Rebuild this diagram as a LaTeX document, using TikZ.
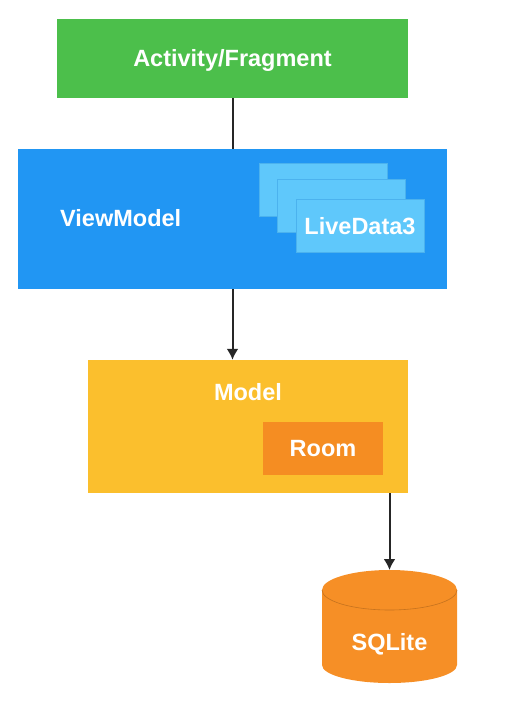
\documentclass[tikz,border=0pt]{standalone}
\usepackage{fontspec}
\setmainfont{Liberation Sans}
\usepackage{tikz}
\usetikzlibrary{positioning,arrows.meta}
\definecolor{actgreen}{HTML}{4CBF4B}
\definecolor{vmblue}{HTML}{2196F3}
\definecolor{ldblue}{HTML}{5FC8FB}
\definecolor{ldedge}{HTML}{4BB2EE}
\definecolor{mdyellow}{HTML}{FBBF2D}
\definecolor{roomorange}{HTML}{F58D22}
\definecolor{dborange}{HTML}{F68F26}
\tikzset{
  box/.style={rectangle,inner sep=0pt,text=white,text height=16.5pt,text depth=0pt,
    font=\bfseries\fontsize{23.5}{27}\selectfont},
  ldbox/.style={box,fill=ldblue,draw=ldedge,line width=0.6pt,minimum width=128pt,minimum height=53pt},
  link/.style={line width=2pt,black!85},
  tip/.style={-{Latex[length=11pt,width=12pt]}}
}

\begin{document}
\begin{tikzpicture}[x=1pt,y=-1pt] % 1pt = 1 pixel, y downwards
  \useasboundingbox (0,0) rectangle (510,714);
  % boxes
  \node[box,fill=actgreen,minimum width=351pt,minimum height=79pt] (act) at (232.5,58.5) {Activity/Fragment};
  \node[box,fill=vmblue,minimum width=429pt,minimum height=140pt] (vm) at (232.5,219) {};
  \node[box,anchor=west] (vmtext) at (60,218) {ViewModel};
  \node[ldbox] (ld1) at (323,190) {};
  \node[ldbox] (ld2) at (341,205.5) {};
  \node[ldbox] (ld3) at (360,226) {LiveData3};
  \node[box,fill=mdyellow,minimum width=320pt,minimum height=133pt] (model) at (248,426.5) {};
  \node[box] (modeltext) at (248,392) {Model};
  \node[box,fill=roomorange,minimum width=120pt,minimum height=53pt] (room) at (323,448.5) {Room};
  % database cylinder
  \fill[dborange] (322,590) -- (322,665) arc[start angle=180,end angle=0,x radius=67.5,y radius=18]
    -- (457,590) arc[start angle=0,end angle=-180,x radius=67.5,y radius=20] -- cycle;
  \draw[dborange!80!black,line width=0.6pt] (322,590) arc[start angle=180,end angle=0,x radius=67.5,y radius=20];
  \coordinate (dbtop) at (389.5,570);
  \node[box] (sqlite) at (389.5,642) {SQLite};
  % connectors
  \draw[link] (act) -- (vm);
  \draw[link,tip] (vm.south) -- (vm.south |- model.north);
  \draw[link,tip] (model.south -| dbtop) -- (dbtop);
\end{tikzpicture}
\end{document}
